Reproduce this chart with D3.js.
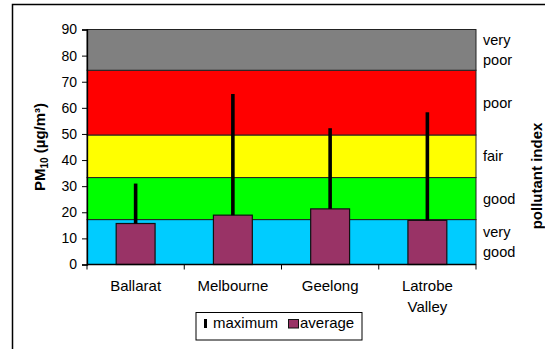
<!DOCTYPE html>
<html>
<head>
<meta charset="utf-8">
<script src="https://cdn.jsdelivr.net/npm/d3@7"></script>
<style>
  html, body { margin: 0; padding: 0; background: #fff; }
  svg { display: block; font-family: "Liberation Sans", Arial, sans-serif; }
</style>
</head>
<body>
<svg id="chart" width="545" height="349"></svg>
<script>
// Sites and PM10 concentrations (µg/m³)
const categories = ["Ballarat", "Melbourne", "Geelong", "Latrobe Valley"];
const average = [15.7, 18.9, 21.3, 16.9];
const maximum = [31.0, 65.3, 52.2, 58.3];

// Pollutant index bands (µg/m³ boundaries)
const bandLabels = [["very", "good"], ["good"], ["fair"], ["poor"], ["very", "poor"]];
const bandEdges = [0, 17.2, 33.3, 49.6, 74.4, 90];
const bandColors = ["#00ccff", "#00ff00", "#ffff00", "#ff0000", "#808080"];

const yTicks = [0, 10, 20, 30, 40, 50, 60, 70, 80, 90];

const svg = d3.select("#chart");
const plot = { left: 87, right: 476, top: 29.5, bottom: 264.5 };

const y = d3.scaleLinear().domain([0, 90]).range([plot.bottom, plot.top]);
const x = d3.scaleBand().domain(categories)
  .range([plot.left, plot.right])
  .paddingInner(0.6).paddingOuter(0.3);

// outer frame
svg.append("rect")
  .attr("x", 12.5).attr("y", 4.5).attr("width", 600).attr("height", 400)
  .attr("fill", "none").attr("stroke", "#000").attr("stroke-width", 1.5);

// index bands
const bands = d3.range(bandColors.length).map(i => ({
  lo: bandEdges[i], hi: bandEdges[i + 1], color: bandColors[i], label: bandLabels[i]
}));
svg.append("g").selectAll("rect").data(bands).join("rect")
  .attr("x", plot.left)
  .attr("y", d => y(d.hi))
  .attr("width", plot.right - plot.left)
  .attr("height", d => y(d.lo) - y(d.hi))
  .attr("fill", d => d.color)
  .attr("stroke", "#222").attr("stroke-width", 1);

// band labels on the right
const lbl = svg.append("g").attr("font-size", 14.5).attr("fill", "#000");
bands.forEach(d => {
  const mid = (y(d.lo) + y(d.hi)) / 2;
  const n = d.label.length;
  d.label.forEach((t, j) => {
    lbl.append("text")
      .attr("x", plot.right + 7)
      .attr("y", mid + 5 + (j - (n - 1) / 2) * 20)
      .text(t);
  });
});

// average bars
svg.append("g").selectAll("rect").data(categories).join("rect")
  .attr("x", d => x(d))
  .attr("y", (d, i) => y(average[i]))
  .attr("width", x.bandwidth())
  .attr("height", (d, i) => y(0) - y(average[i]))
  .attr("fill", "#993366")
  .attr("stroke", "#111").attr("stroke-width", 1.2);

// maximum lines, from the average up to the maximum
svg.append("g").selectAll("line").data(categories).join("line")
  .attr("x1", d => x(d) + x.bandwidth() / 2)
  .attr("x2", d => x(d) + x.bandwidth() / 2)
  .attr("y1", (d, i) => y(average[i]))
  .attr("y2", (d, i) => y(maximum[i]))
  .attr("stroke", "#000").attr("stroke-width", 3.6);

// y axis
const yAxis = svg.append("g")
  .attr("transform", `translate(${plot.left},0)`)
  .call(d3.axisLeft(y).tickValues(yTicks).tickSize(5).tickPadding(5));
yAxis.select(".domain").attr("stroke", "#000").attr("stroke-width", 1.3);
yAxis.selectAll(".tick line").attr("stroke", "#000");
yAxis.selectAll("text").attr("font-size", 14).attr("fill", "#000")
  .attr("font-family", "Liberation Sans, Arial, sans-serif");

// x axis: baseline with ticks on category boundaries
const xg = svg.append("g");
xg.append("line")
  .attr("x1", plot.left).attr("x2", plot.right)
  .attr("y1", y(0)).attr("y2", y(0))
  .attr("stroke", "#000").attr("stroke-width", 1.3);
const step = x.step();
xg.selectAll("line.tk").data(d3.range(categories.length + 1)).join("line")
  .attr("class", "tk")
  .attr("x1", i => plot.left + i * step).attr("x2", i => plot.left + i * step)
  .attr("y1", y(0)).attr("y2", y(0) + 5)
  .attr("stroke", "#000");
categories.forEach(c => {
  const words = c === "Latrobe Valley" ? ["Latrobe", "Valley"] : [c];
  words.forEach((w, j) => {
    xg.append("text")
      .attr("x", x(c) + x.bandwidth() / 2)
      .attr("y", 290.5 + j * 21)
      .attr("text-anchor", "middle")
      .attr("font-size", 15)
      .text(w);
  });
});

// axis titles
const lt = svg.append("text")
  .attr("transform", `translate(45,${(plot.top + plot.bottom) / 2}) rotate(-90)`)
  .attr("text-anchor", "middle")
  .attr("font-size", 15).attr("font-weight", "bold");
lt.append("tspan").text("PM");
lt.append("tspan").attr("font-size", 10).attr("dy", 3).text("10");
lt.append("tspan").attr("dy", -3).text(" (µg/m³)");

svg.append("text")
  .attr("transform", `translate(542,176) rotate(-90)`)
  .attr("text-anchor", "middle")
  .attr("font-size", 15).attr("font-weight", "bold")
  .text("pollutant index");

// legend
const lg = svg.append("g");
lg.append("rect")
  .attr("x", 196).attr("y", 312.5).attr("width", 166).attr("height", 27.5)
  .attr("fill", "#fff").attr("stroke", "#000").attr("stroke-width", 1);
lg.append("rect")
  .attr("x", 204).attr("y", 319).attr("width", 3).attr("height", 9)
  .attr("fill", "#000");
lg.append("text").attr("x", 213).attr("y", 328).attr("font-size", 15).text("maximum");
lg.append("rect")
  .attr("x", 288.5).attr("y", 319.5).attr("width", 10).attr("height", 8.5)
  .attr("fill", "#993366").attr("stroke", "#111").attr("stroke-width", 1);
lg.append("text").attr("x", 300).attr("y", 328).attr("font-size", 15).text("average");
</script>
</body>
</html>
